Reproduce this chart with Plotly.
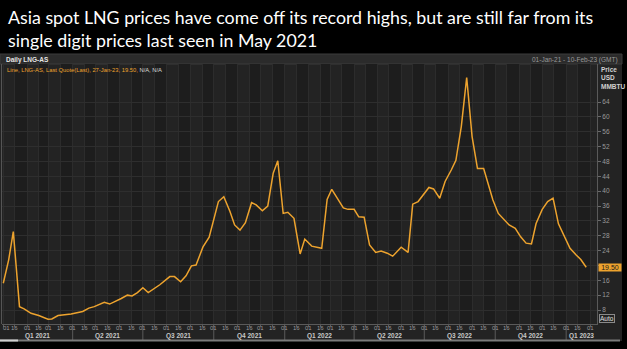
import pandas as pd
import plotly.graph_objects as go

# Weekly Asia spot LNG assessment (USD/MMBtu)
dates = ["2021-01-01", "2021-01-08", "2021-01-14", "2021-01-22", "2021-01-28",
         "2021-02-06", "2021-02-16", "2021-02-28", "2021-03-05", "2021-03-13",
         "2021-03-30", "2021-04-14", "2021-04-22", "2021-04-29", "2021-05-12",
         "2021-05-19", "2021-06-03", "2021-06-11", "2021-06-17", "2021-06-24",
         "2021-07-01", "2021-07-08", "2021-07-23", "2021-08-05", "2021-08-11",
         "2021-08-19", "2021-08-26", "2021-09-02", "2021-09-08", "2021-09-17",
         "2021-09-25", "2021-10-01", "2021-10-07", "2021-10-14", "2021-10-22",
         "2021-10-28", "2021-11-04", "2021-11-11", "2021-11-19", "2021-11-25",
         "2021-12-03", "2021-12-10", "2021-12-17", "2021-12-23", "2021-12-30",
         "2022-01-05", "2022-01-13", "2022-01-21", "2022-01-27", "2022-02-05",
         "2022-02-18", "2022-02-25", "2022-03-03", "2022-03-18", "2022-03-24",
         "2022-04-01", "2022-04-07", "2022-04-14", "2022-04-21", "2022-04-29",
         "2022-05-06", "2022-05-14", "2022-05-21", "2022-06-01", "2022-06-10",
         "2022-06-16", "2022-06-23", "2022-07-07", "2022-07-13", "2022-07-21",
         "2022-07-28", "2022-08-05", "2022-08-11", "2022-08-18", "2022-08-25",
         "2022-09-01", "2022-09-08", "2022-09-16", "2022-09-23", "2022-09-28",
         "2022-10-05", "2022-10-13", "2022-10-19", "2022-10-27", "2022-11-03",
         "2022-11-10", "2022-11-17", "2022-11-23", "2022-12-01", "2022-12-08",
         "2022-12-15", "2022-12-22", "2022-12-30", "2023-01-06", "2023-01-14",
         "2023-01-20", "2023-01-27"]
prices = [15.2, 21.5, 29.1, 8.9, 8.3, 7.1, 6.5, 5.5, 5.6, 6.5,
          6.9, 7.6, 8.5, 8.9, 10.1, 9.6, 11.1, 12.0, 11.8, 12.7,
          14.0, 12.7, 14.8, 17.0, 17.0, 15.6, 17.2, 19.9, 20.1, 25.0,
          27.6, 32.2, 37.2, 38.5, 34.5, 30.9, 29.5, 31.5, 36.9, 36.3,
          34.7, 36.0, 44.8, 48.2, 34.0, 34.3, 32.7, 23.1, 27.1, 25.2,
          24.6, 37.8, 40.5, 35.5, 35.1, 35.1, 33.1, 33.0, 25.5, 23.5,
          23.9, 23.3, 22.5, 24.9, 23.5, 36.5, 37.2, 41.0, 40.6, 38.1,
          42.6, 45.7, 48.3, 57.4, 70.6, 54.7, 46.1, 46.1, 41.2, 37.6,
          34.0, 32.2, 30.9, 30.0, 27.7, 26.0, 25.8, 31.3, 35.1, 37.2,
          38.1, 31.2, 27.7, 24.6, 22.8, 21.6, 19.5]
last_date_label = "27-Jan-23"
last_price = 19.50

# Axis ticks: 1st and 16th of every month, quarters underneath
x_start, x_end = "2020-12-30 08:00", "2023-02-10"
tick_dates = [d for m in pd.date_range("2021-01-01", "2023-02-01", freq="MS")
              for d in (m, m + pd.Timedelta(days=15))
              if d <= pd.Timestamp(x_end)]
tick_text = [d.strftime("%d") for d in tick_dates]
quarter_starts = pd.date_range("2021-01-01", "2023-01-01", freq="QS")
quarter_labels = [f"Q{q.quarter} {q.year}" for q in quarter_starts]
y_ticks = list(range(8, 65, 4))
# the last-price flag sits on top of the 20 label
y_tick_text = ["" if abs(v - last_price) < 2 else str(v) for v in y_ticks]

TITLE = ("Asia spot LNG prices have come off its record highs, but are still far from its"
         "<br>single digit prices last seen in May 2021")

W, H = 627, 349
L, R, T, B = 2, 30, 64, 25
PW, PH = W - L - R, H - T - B


def px(xp):
    return (xp - L) / PW


def py(yp):
    return (H - B - yp) / PH


ORANGE = "#eda32e"
SMALL = "Liberation Sans, Arial"
PANEL = "#232323"

fig = go.Figure()
fig.add_trace(go.Scatter(
    x=pd.to_datetime(dates), y=prices, mode="lines",
    line=dict(color=ORANGE, width=1.5), hoverinfo="skip", showlegend=False,
))

shapes = [
    # chart panel, header strip
    dict(type="rect", xref="paper", yref="paper", x0=px(0), x1=px(622),
         y0=py(341), y1=py(54), fillcolor=PANEL, line_width=0, layer="below"),
    dict(type="rect", xref="paper", yref="paper", x0=px(0), x1=px(622),
         y0=py(64), y1=py(54), fillcolor="#2b2b2b",
         line=dict(color="#3c3c3c", width=1), layer="below"),
]

# alternating half-month column shading
edges = [pd.Timestamp(x_start)] + tick_dates[1:] + [pd.Timestamp(x_end)]
for i in range(len(edges) - 1):
    if i % 2 == 1:
        shapes.append(dict(type="rect", xref="x", yref="paper",
                           x0=edges[i], x1=edges[i + 1], y0=0, y1=1,
                           fillcolor="#1d1d1d", line_width=0, layer="below"))

# quarter separators below the axis
for q in quarter_starts[1:]:
    shapes.append(dict(type="line", xref="x", yref="paper", x0=q, x1=q,
                       y0=0, y1=py(340), line=dict(color="#5a5a5a", width=1)))

# left frame edge and scroll strip
shapes += [
    dict(type="line", xref="paper", yref="paper", x0=px(1.5), x1=px(1.5),
         y0=0, y1=1, line=dict(color="#555555", width=1)),
    dict(type="rect", xref="paper", yref="paper", x0=px(0), x1=px(620),
         y0=py(341.5), y1=py(339.5), fillcolor="#7a7a7a", line_width=0),
    dict(type="rect", xref="paper", yref="paper", x0=px(0), x1=px(18),
         y0=py(341.5), y1=py(339.5), fillcolor="#d0d0d0", line_width=0),
]

annotations = [
    dict(text=TITLE, xref="paper", yref="paper", x=px(6), y=py(4),
         xanchor="left", yanchor="top", align="left", showarrow=False,
         font=dict(family="Lato, Liberation Sans, Arial", size=17.8, color="white")),
    dict(text="<b>Daily LNG-AS</b>", xref="paper", yref="paper", x=px(4), y=py(59.5),
         xanchor="left", yanchor="middle", showarrow=False,
         font=dict(family=SMALL, size=6.5, color="#e6e6e6")),
    dict(text="01-Jan-21 - 10-Feb-23 (GMT)", xref="paper", yref="paper",
         x=px(620), y=py(60), xanchor="right", yanchor="middle", showarrow=False,
         font=dict(family=SMALL, size=6.5, color="#9a9a9a")),
    dict(text=(f"<span style='color:{ORANGE}'>Line, LNG-AS, Last Quote(Last), "
               f"{last_date_label}, {last_price:.2f},</span> N/A, N/A"),
         xref="paper", yref="paper", x=px(5), y=py(69.5), xanchor="left",
         yanchor="middle", showarrow=False,
         font=dict(family=SMALL, size=5.8, color="#d8d8d8")),
    dict(text="<b>Price<br>USD<br>MMBTU</b>", xref="paper", yref="paper",
         x=px(599), y=py(64), xanchor="left", yanchor="top", align="left",
         showarrow=False, font=dict(family=SMALL, size=6.5, color="#d0d0d0")),
    dict(text=f"{last_price:.2f}", xref="paper", yref="y", x=px(598), y=last_price,
         xanchor="left", yanchor="middle", showarrow=False, bgcolor=ORANGE,
         borderpad=0, width=22, align="center",
         font=dict(family=SMALL, size=7, color="#1a1a1a")),
    dict(text="Auto", xref="paper", yref="paper", x=px(599), y=py(318.5),
         xanchor="left", yanchor="middle", showarrow=False,
         bordercolor="#8a8a8a", borderwidth=1, borderpad=0,
         font=dict(family=SMALL, size=6.5, color="#e0e0e0")),
]

# day-of-month labels under the ticks (the first one nudged inside the frame)
for d, t in zip(tick_dates, tick_text):
    xa = d if d > pd.Timestamp("2021-01-02") else pd.Timestamp("2021-01-05")
    annotations.append(dict(text=t, xref="x", yref="paper", x=xa, y=py(328),
                            xanchor="center", yanchor="middle", showarrow=False,
                            font=dict(family=SMALL, size=6, color="#9a9a9a")))

# quarter labels centred in the visible part of each quarter
for q, lab in zip(quarter_starts, quarter_labels):
    a = max(q, pd.Timestamp(x_start))
    b = min(q + pd.offsets.QuarterBegin(startingMonth=1), pd.Timestamp(x_end))
    annotations.append(dict(text=f"<b>{lab}</b>", xref="x", yref="paper",
                            x=a + (b - a) / 2, y=py(335.5), xanchor="center",
                            yanchor="middle", showarrow=False,
                            font=dict(family=SMALL, size=6.5, color="#c8c8c8")))

fig.update_layout(
    width=W, height=H, margin=dict(l=L, r=R, t=T, b=B),
    paper_bgcolor="black", plot_bgcolor=PANEL,
    shapes=shapes, annotations=annotations,
    xaxis=dict(range=[x_start, x_end], tickvals=tick_dates, showticklabels=False,
               showgrid=True, gridcolor="#2c2c2c", gridwidth=1,
               ticks="outside", ticklen=2, tickcolor="#5a5a5a",
               showline=True, linecolor="#5a5a5a", zeroline=False),
    yaxis=dict(side="right", range=[4.23, 74.24], tickvals=y_ticks,
               ticktext=y_tick_text,
               showgrid=True, gridcolor="#2e2e2e", gridwidth=1,
               ticks="outside", ticklen=3, tickcolor="#6a6a6a",
               showline=True, linecolor="#5a5a5a", zeroline=False,
               tickfont=dict(family=SMALL, size=6.5, color="#9a9a9a")),
)

fig.write_html("out.html")
